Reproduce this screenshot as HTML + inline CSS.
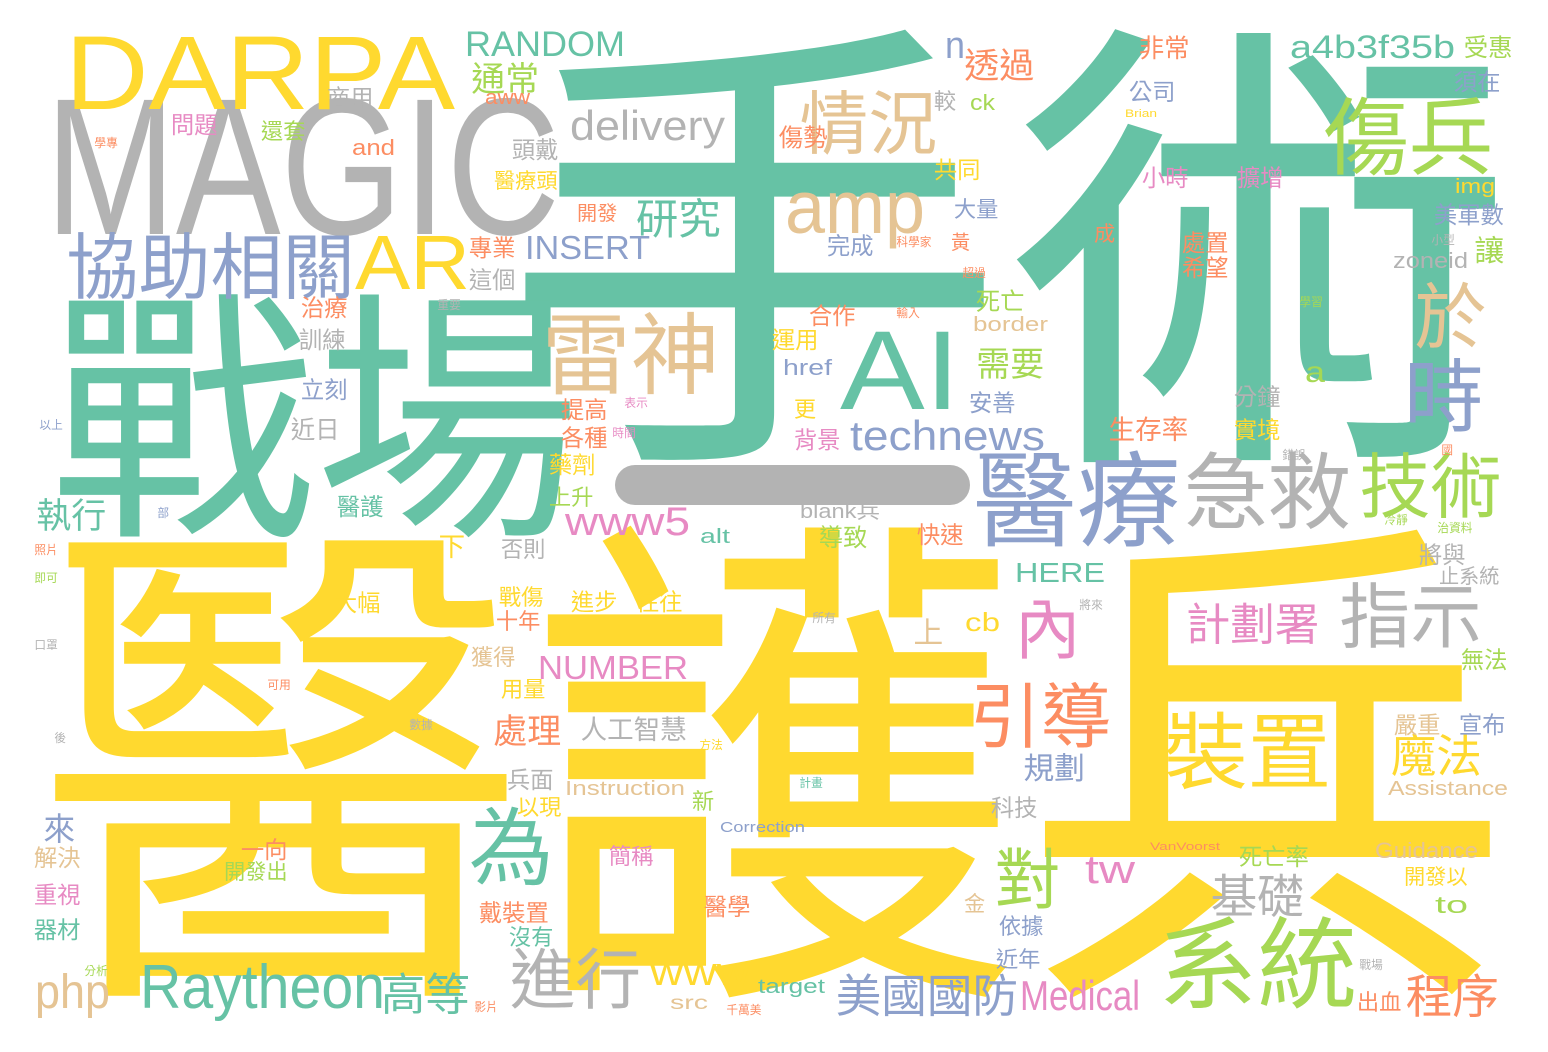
<!DOCTYPE html>
<html lang="zh-Hant">
<head>
<meta charset="utf-8">
<style>
  html,body{margin:0;padding:0;background:#fff;}
  #cloud{position:relative;width:1548px;height:1052px;overflow:hidden;background:#fff;}
  .w{position:absolute;white-space:nowrap;line-height:1;font-family:"Liberation Sans","Noto Sans CJK TC",sans-serif;transform-origin:0 0;}
</style>
</head>
<body>
<div id="cloud">
  <div style="position:absolute;left:615px;top:465px;width:355px;height:40px;border-radius:20px;background:#b3b3b3;"></div>
</div>
<script>
// Word cloud data: text, ink-left, ink-top, font-size, colour key, type (c=CJK, L=latin, x=x-height only, B=box coords), target width (latin) or scaleX (B)
const words = [
["手術",500,27,470,"t","B",1.08],
["醫護兵",35,525,510,"y","B",0.966],
["戰場",50,292,265,"t","B",1],
["MAGIC",45,95,195,"r","L",515],
["DARPA",65,35,105,"y","L",390],
["協助相關",70,235,68,"b","c",0],
["AR",355,235,77,"y","L",115],
["AI",840,330,112,"t","L",120],
["雷神",546,315,84,"n","c",0],
["情況",803,93,65,"n","c",0],
["amp",785,195,75,"n","x",140],
["delivery",570,110,42,"r","L",155],
["研究",638,200,40,"t","c",0],
["傷兵",1328,100,80,"g","c",0],
["於",1418,285,68,"n","c",0],
["時",1408,360,75,"b","c",0],
["醫療",978,455,98,"b","c",0],
["急救",1188,455,79,"r","c",0],
["技術",1363,455,67,"g","c",0],
["內",1018,600,62,"p","c",0],
["指示",1343,585,67,"r","c",0],
["計劃署",1188,605,42,"p","c",0],
["引導",973,685,67,"o","c",0],
["裝置",1168,715,79,"y","c",0],
["魔法",1393,735,43,"y","c",0],
["為",473,810,80,"t","c",0],
["對",998,850,62,"g","c",0],
["系統",1163,920,94,"g","c",0],
["進行",513,950,62,"r","c",0],
["Raytheon",140,965,62,"t","L",245],
["高等",383,975,42,"t","c",0],
["美國國防",838,975,43,"b","c",0],
["Medical",1020,980,42,"p","L",120],
["程序",1408,975,44,"o","c",0],
["基礎",1213,875,44,"r","c",0],
["tw",1085,855,40,"p","L",50],
["technews",850,420,42,"b","L",195],
["www5",565,515,40,"p","x",125],
["www",650,965,40,"y","x",100],
["php",35,975,48,"n","L",75],
["RANDOM",465,32,35,"t","L",160],
["a4b3f35b",1290,35,32,"t","L",165],
["n",945,40,38,"b","x",20],
["透過",966,50,33,"o","c",0],
["非常",1140,38,24,"o","c",0],
["受惠",1465,38,23,"g","c",0],
["通常",473,65,32,"g","c",0],
["aww",485,95,20,"o","x",45],
["公司",1130,82,22,"b","c",0],
["須在",1455,72,22,"b","c",0],
["INSERT",525,235,33,"b","L",125],
["專業",470,238,22,"o","c",0],
["這個",470,270,22,"r","c",0],
["商用",328,88,22,"r","c",0],
["問題",172,115,22,"p","c",0],
["and",352,140,22,"o","L",43],
["還套",262,122,21,"g","c",0],
["頭戴",513,140,22,"r","c",0],
["醫療頭",495,172,20,"y","c",0],
["ck",970,95,22,"g","L",25],
["傷勢",780,128,23,"o","c",0],
["較",935,92,21,"r","c",0],
["共同",935,160,22,"y","c",0],
["小時",1143,168,22,"p","c",0],
["擴增",1238,168,22,"p","c",0],
["img",1455,180,20,"y","L",40],
["美軍數",1435,205,22,"b","c",0],
["大量",955,200,21,"b","c",0],
["完成",828,236,22,"b","c",0],
["開發",578,205,19,"o","c",0],
["成",1095,225,20,"o","c",0],
["黃",952,235,18,"o","c",0],
["處置",1183,233,22,"o","c",0],
["希望",1183,258,22,"o","c",0],
["讓",1476,238,28,"g","c",0],
["zoneid",1393,253,22,"r","L",75],
["死亡",977,292,23,"g","c",0],
["border",973,318,20,"n","L",75],
["合作",810,306,22,"o","c",0],
["需要",978,350,32,"g","c",0],
["運用",773,330,22,"y","c",0],
["href",783,360,22,"b","L",49],
["安善",970,393,22,"b","c",0],
["更",795,400,21,"y","c",0],
["背景",795,430,22,"p","c",0],
["生存率",1110,418,25,"o","c",0],
["分鐘",1235,387,22,"r","c",0],
["實境",1235,420,22,"y","c",0],
["a",1305,368,30,"g","x",20],
["提高",562,400,22,"o","c",0],
["各種",562,428,22,"o","c",0],
["藥劑",550,455,22,"y","c",0],
["上升",550,488,21,"g","c",0],
["治療",302,298,22,"o","c",0],
["訓練",300,330,22,"r","c",0],
["立刻",302,380,22,"b","c",0],
["近日",292,420,23,"r","c",0],
["執行",38,500,33,"t","c",0],
["醫護",338,497,22,"t","c",0],
["blank兵",800,505,20,"r","L",80],
["alt",700,530,20,"t","L",30],
["導致",820,528,23,"g","c",0],
["快速",918,525,22,"o","c",0],
["將與",1420,545,22,"r","c",0],
["止系統",1440,568,19,"r","c",0],
["HERE",1015,563,28,"t","L",90],
["否則",502,540,21,"r","c",0],
["下",440,535,25,"y","c",0],
["大幅",335,593,22,"y","c",0],
["戰傷",500,588,21,"y","c",0],
["進步",572,592,22,"y","c",0],
["往往",637,592,22,"y","c",0],
["十年",497,612,21,"o","c",0],
["cb",965,612,26,"y","L",35],
["上",915,620,28,"n","c",0],
["獲得",472,648,21,"n","c",0],
["NUMBER",538,655,33,"p","L",150],
["用量",502,680,21,"y","c",0],
["無法",1462,650,22,"g","c",0],
["處理",495,717,32,"o","c",0],
["人工智慧",582,718,25,"r","c",0],
["規劃",1025,755,29,"b","c",0],
["嚴重",1395,715,22,"n","c",0],
["宣布",1460,715,22,"b","c",0],
["兵面",508,770,22,"r","c",0],
["Instruction",565,782,20,"n","L",120],
["以現",518,798,21,"y","c",0],
["新",693,792,21,"g","c",0],
["科技",992,798,22,"r","c",0],
["Assistance",1388,782,20,"n","L",120],
["來",45,815,30,"b","c",0],
["解決",35,848,22,"n","c",0],
["一向",242,840,22,"o","c",0],
["開發出",225,863,20,"g","c",0],
["Correction",720,822,15,"b","L",85],
["簡稱",610,847,21,"p","c",0],
["死亡率",1240,847,22,"g","c",0],
["Guidance",1375,843,22,"n","L",103],
["開發以",1405,868,20,"y","c",0],
["VanVoorst",1150,843,11,"o","L",70],
["重視",35,885,22,"p","c",0],
["器材",35,920,22,"t","c",0],
["戴裝置",480,903,22,"o","c",0],
["醫學",705,897,22,"o","c",0],
["to",1435,897,24,"g","L",33],
["沒有",510,928,21,"t","c",0],
["依據",1000,917,21,"b","c",0],
["金",965,895,20,"n","c",0],
["近年",997,950,21,"b","c",0],
["target",758,980,20,"t","L",67],
["src",670,1000,19,"n","x",38],
["出血",1358,993,21,"o","c",0],
["Brian",1125,110,11,"y","L",32],
["學專",95,138,11,"o","c",0],
["科學家",897,237,11,"o","c",0],
["小型",1432,235,11,"r","c",0],
["超過",963,268,11,"o","c",0],
["學習",1300,297,11,"g","c",0],
["輸入",897,308,11,"o","c",0],
["表示",625,398,11,"p","c",0],
["時間",613,428,11,"p","c",0],
["以上",40,420,11,"b","c",0],
["照片",35,545,11,"o","c",0],
["即可",35,573,11,"g","c",0],
["口罩",35,640,11,"r","c",0],
["分析",85,966,11,"g","c",0],
["影片",475,1002,11,"o","c",0],
["千萬美",727,1005,11,"o","c",0],
["可用",268,680,11,"o","c",0],
["錯誤",1283,450,11,"r","c",0],
["冷靜",1385,515,11,"g","c",0],
["治資料",1438,523,11,"g","c",0],
["所有",813,613,11,"r","c",0],
["將來",1080,600,11,"r","c",0],
["計畫",800,778,11,"t","c",0],
["數據",410,720,11,"r","c",0],
["方法",700,740,11,"y","c",0],
["國",1442,445,11,"o","c",0],
["部",158,508,11,"b","c",0],
["後",55,733,11,"r","c",0],
["戰場",1360,960,11,"r","c",0],
["重要",438,300,11,"r","c",0]
];
const palette = {t:"#66c2a5",o:"#fc8d62",b:"#8da0cb",p:"#e78ac3",g:"#a6d854",y:"#ffd92f",n:"#e5c494",r:"#b3b3b3"};
const topOffset = {c:0.03,L:0.13,x:0.33,B:0};

const cloud = document.getElementById('cloud');
words.forEach(function(wd){
  const el = document.createElement('div');
  el.className = 'w';
  el.textContent = wd[0];
  const type = wd[5];
  const size = type === 'c' ? wd[3]*1.06 : wd[3];
  el.style.fontSize = size + 'px';
  el.style.color = palette[wd[4]];
  el.style.left = (wd[1] - (type === 'c' ? size*0.05 : 0)) + 'px';
  el.style.top = (wd[2] - size*topOffset[type]) + 'px';
  
  
  cloud.appendChild(el);
  if (type === 'B') {
    if (wd[6] !== 1) el.style.transform = 'scaleX(' + wd[6] + ')';
  } else if (wd[6] > 0) {
    const mw = el.getBoundingClientRect().width;
    if (mw > 0) el.style.transform = 'scaleX(' + (wd[6]/mw) + ')';
  }
});
</script>
</body>
</html>
